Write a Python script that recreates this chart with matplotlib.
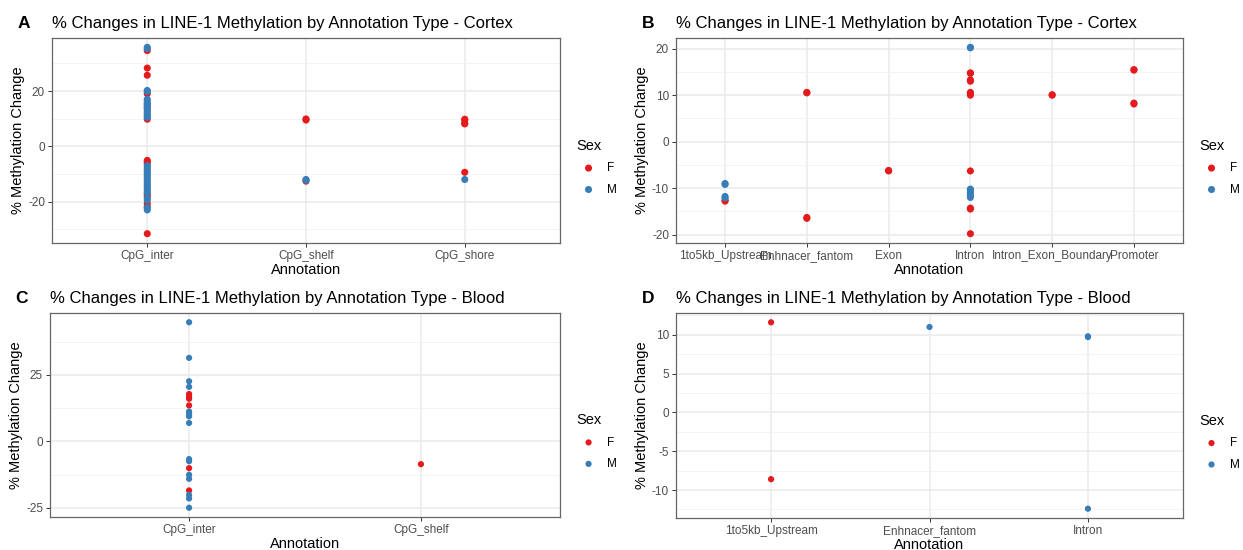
import matplotlib
matplotlib.use("Agg")
import matplotlib.pyplot as plt
from matplotlib.ticker import FixedLocator
import numpy as np

plt.rcParams['font.family'] = ['Liberation Sans', 'DejaVu Sans']

RED = '#E41A1C'
BLUE = '#377EB8'

# Panel A - cortex, CpG annotation
a_cats = ['CpG_inter', 'CpG_shelf', 'CpG_shore']
a_f = {'CpG_inter': [34.6, 28.3, 25.7, 19.0, 15.2, 14.0, 9.8, -5.1, -5.6, -6.3,
                     -17.2, -18.0, -20.7, -21.9, -31.6],
       'CpG_shelf': [9.9, 9.5, -12.6],
       'CpG_shore': [9.8, 9.5, 8.4, 8.1, -9.4]}
a_m = {'CpG_inter': [35.8, 35.3, 20.2, 19.8, 17.0, 16.3, 15.5, 14.6, 13.8, 13.0,
                     12.3, 11.6, 11.0, 10.5, -7.0, -7.8, -8.5, -9.2, -10.0, -10.7,
                     -11.4, -12.2, -13.0, -13.8, -14.5, -15.2, -16.0, -16.8,
                     -18.8, -19.5, -22.2, -23.0],
       'CpG_shelf': [-12.0, -12.3],
       'CpG_shore': [-12.0]}

# Panel B - cortex, gene annotation
b_cats = ['1to5kb_Upstream', 'Enhnacer_fantom', 'Exon', 'Intron',
          'Intron_Exon_Boundary', 'Promoter']
b_f = {'1to5kb_Upstream': [-12.6, -12.8],
       'Enhnacer_fantom': [10.5, 10.6, -16.3, -16.5],
       'Exon': [-6.2, -6.3],
       'Intron': [14.8, 14.7, 13.3, 13.0, 10.6, 10.4, 10.0, -6.3, -14.3, -14.5, -19.8],
       'Intron_Exon_Boundary': [10.1, 10.0],
       'Promoter': [15.5, 15.4, 8.3, 8.1]}
b_m = {'1to5kb_Upstream': [-9.2, -9.0, -11.8, -12.1],
       'Intron': [20.3, 20.2, -10.2, -10.5, -11.0, -11.5, -12.0]}

# Panel C - blood, CpG annotation
c_cats = ['CpG_inter', 'CpG_shelf']
c_f = {'CpG_inter': [17.8, 16.8, 16.0, 13.5, -10.1, -18.5],
       'CpG_shelf': [-8.6]}
c_m = {'CpG_inter': [44.8, 31.4, 22.6, 20.5, 11.2, 10.2, 9.4, 6.9, -6.7, -7.5,
                     -12.6, -14.1, -20.2, -21.5, -25.0]}

# Panel D - blood, gene annotation
d_cats = ['1to5kb_Upstream', 'Enhnacer_fantom', 'Intron']
d_f = {'1to5kb_Upstream': [11.6, -8.6]}
d_m = {'Enhnacer_fantom': [11.0],
       'Intron': [9.7, 9.8, -12.4]}

fig = plt.figure(figsize=(12.43, 5.5), dpi=100)
W, H = 1243.0, 550.0


def make_ax(x0, x1, y0, y1):
    return fig.add_axes([x0 / W, 1 - y1 / H, (x1 - x0) / W, (y1 - y0) / H])


def draw_panel(ax, cats, fdat, mdat, letter, title, major, minor, size):
    allv = []
    for sex, dat, col in (('F', fdat, RED), ('M', mdat, BLUE)):
        xs, ys = [], []
        for c, vals in dat.items():
            xs += [cats.index(c)] * len(vals)
            ys += vals
        allv += ys
        ax.scatter(xs, ys, s=size, color=col, edgecolor='none', label=sex, zorder=3)
    lo, hi = min(allv), max(allv)
    pad = (hi - lo) * 0.05
    ax.set_ylim(lo - pad, hi + pad)
    ax.set_xlim(-0.6, len(cats) - 0.4)
    ax.set_xticks(range(len(cats)))
    ax.set_xticklabels(cats)
    ax.set_yticks(major)
    ax.set_yticklabels(['%g' % v for v in major])
    ax.yaxis.set_minor_locator(FixedLocator(minor))
    ax.grid(which='major', color='#EBEBEB', lw=1.1, zorder=0)
    ax.grid(which='minor', axis='y', color='#F2F2F2', lw=0.6, zorder=0)
    ax.tick_params(which='minor', length=0)
    ax.tick_params(which='major', length=3, color='#333333', labelcolor='#4D4D4D',
                   labelsize=8.5, width=0.7, pad=2)
    for sp in ax.spines.values():
        sp.set_color('#666666')
        sp.set_linewidth(0.9)
    ax.set_axisbelow(True)
    ax.set_xlabel('Annotation', fontsize=10.5, labelpad=1)
    ax.set_ylabel('% Methylation Change', fontsize=10.5, labelpad=2)
    ax.set_title(title, loc='left', fontsize=12, pad=7, x=0.0)
    ax.text(-0.068, 1.035, letter, transform=ax.transAxes, fontsize=12.5,
            fontweight='bold', va='bottom', ha='left')
    leg = ax.legend(title='Sex', loc='center left', bbox_to_anchor=(1.012, 0.37),
                    frameon=False, fontsize=8.5, title_fontsize=10.5,
                    handletextpad=0.6, labelspacing=0.8, markerscale=1.0)
    leg._legend_box.align = 'left'


axA = make_ax(52, 560, 38, 243)
axB = make_ax(676, 1183, 38, 243)
axC = make_ax(50, 560, 313, 517)
axD = make_ax(676, 1183, 313, 518)

draw_panel(axA, a_cats, a_f, a_m, 'A',
           '% Changes in LINE-1 Methylation by Annotation Type - Cortex',
           [-20, 0, 20], [-30, -10, 10, 30], 26)
draw_panel(axB, b_cats, b_f, b_m, 'B',
           '% Changes in LINE-1 Methylation by Annotation Type - Cortex',
           [-20, -10, 0, 10, 20], [-15, -5, 5, 15], 26)
draw_panel(axC, c_cats, c_f, c_m, 'C',
           '% Changes in LINE-1 Methylation by Annotation Type - Blood',
           [-25, 0, 25], [-12.5, 12.5, 37.5], 20)
draw_panel(axD, d_cats, d_f, d_m, 'D',
           '% Changes in LINE-1 Methylation by Annotation Type - Blood',
           [-10, -5, 0, 5, 10], [-12.5, -7.5, -2.5, 2.5, 7.5, 12.5], 20)

fig.savefig('out.png', dpi=100)
